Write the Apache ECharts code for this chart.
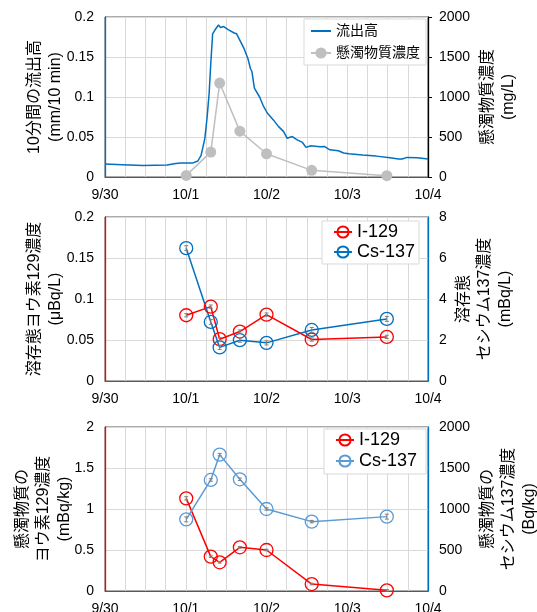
<!DOCTYPE html>
<html>
<head>
<meta charset="utf-8">
<script src="https://cdn.jsdelivr.net/npm/echarts@6/dist/echarts.min.js"></script>
<style>
    html, body { margin: 0; padding: 0; background: #fff; }
    .chart { width: 537px; height: 612px; }
</style>
</head>
<body>
<div class="chart"></div>
<script>
// x: days since 9/30 00:00
var dayLabels = ['9/30', '10/1', '10/2', '10/3', '10/4'];

// 流出高 (mm/10 min)
var flowDays = [0, 0.22, 0.47, 0.77, 0.875, 0.94, 1.09, 1.15, 1.19, 1.236,
    1.265, 1.29, 1.31, 1.333, 1.363, 1.405, 1.43, 1.47, 1.53, 1.6,
    1.63, 1.68, 1.72, 1.77, 1.80, 1.82, 1.85, 1.915, 1.96, 2.01,
    2.085, 2.15, 2.21, 2.255, 2.32, 2.38, 2.445, 2.49, 2.55, 2.66,
    2.72, 2.785, 2.89, 2.955, 3.02, 3.19, 3.36, 3.53, 3.635, 3.68,
    3.74, 3.87, 4.0];
var flowValues = [0.0162, 0.0154, 0.0145, 0.0149, 0.017, 0.0174, 0.0176, 0.020, 0.027, 0.048,
    0.075, 0.105, 0.142, 0.179, 0.184, 0.19, 0.187, 0.188, 0.184, 0.180,
    0.179, 0.169, 0.161, 0.148, 0.136, 0.1315, 0.111, 0.100, 0.089, 0.080,
    0.0714, 0.063, 0.057, 0.0485, 0.0506, 0.0465, 0.0432, 0.037, 0.039, 0.0378,
    0.038, 0.034, 0.0328, 0.030, 0.029, 0.0274, 0.0261, 0.024, 0.0224, 0.0224,
    0.0245, 0.024, 0.0224];

// sampling times
var sampleDays = [1.006, 1.31, 1.42, 1.67, 2.0, 2.56, 3.49];

// 懸濁物質濃度 (mg/L)
var ssValues = [20, 311, 1174, 573, 290, 83, 17];

// 溶存態 I-129 (μBq/L), Cs-137 (mBq/L)
var dissolvedI = [0.0802, 0.0907, 0.051, 0.0603, 0.081, 0.0506, 0.0538];
var dissolvedIErr = [0.002, 0.002, 0.002, 0.002, 0.002, 0.002, 0.002];
var dissolvedCs = [6.48, 2.88, 1.64, 1.99, 1.86, 2.49, 3.03];
var dissolvedCsErr = [0.12, 0.12, 0.1, 0.1, 0.1, 0.12, 0.12];

// 懸濁物質 I-129 (mBq/kg), Cs-137 (Bq/kg)
var particleI = [1.13, 0.419, 0.35, 0.533, 0.50, 0.085, 0.008];
var particleIErr = [0.02, 0.01, 0.01, 0.01, 0.01, 0.01, 0.01];
var particleCs = [874, 1354, 1663, 1362, 1000, 846, 907];
var particleCsErr = [30, 15, 15, 15, 15, 15, 30];

(function () {
    var myChart = echarts.init(document.querySelector(".chart"));
    var font = "'Liberation Sans', Arial, 'Noto Sans CJK JP', sans-serif";
    var gridColor = '#D9D9D9';

    function pairs(xs, ys) {
        return xs.map(function (x, i) { return [x, ys[i]]; });
    }
    function triples(xs, ys, es) {
        return xs.map(function (x, i) { return [x, ys[i], es[i]]; });
    }

    function xAxis(idx) {
        return {
            type: 'value', gridIndex: idx, min: 0, max: 4, interval: 0.25,
            axisLine: { show: true, onZero: false, lineStyle: { color: '#595959', width: 1 } },
            axisTick: { show: false },
            axisLabel: {
                margin: 11, color: '#000', fontSize: 14, fontFamily: font,
                formatter: function (v) { return v % 1 === 0 ? dayLabels[v] : ''; }
            },
            splitLine: { show: true, lineStyle: { color: gridColor, width: 1 } }
        };
    }

    function yAxis(idx, pos, max, interval, color, name, gap, ticks, grid) {
        return {
            type: 'value', gridIndex: idx, position: pos, min: 0, max: max, interval: interval,
            name: name, nameLocation: 'middle', nameRotate: 90, nameGap: gap, nameMoveOverlap: false,
            nameTextStyle: { fontSize: 16, lineHeight: 21, color: '#000', fontFamily: font, align: 'center' },
            axisLine: { show: true, lineStyle: { color: color, width: 1.3 } },
            axisTick: { show: ticks, length: 4, lineStyle: { color: color } },
            axisLabel: {
                margin: 11, color: '#000', fontSize: 14, fontFamily: font,
                formatter: function (v) { return String(v); }
            },
            splitLine: { show: grid, lineStyle: { color: gridColor, width: 1 } }
        };
    }

    function errorBars(xIdx, yIdx, data) {
        return {
            type: 'custom', xAxisIndex: xIdx, yAxisIndex: yIdx, z: 5, silent: true,
            data: data, encode: { x: 0, y: 1 },
            renderItem: function (params, api) {
                var x = api.value(0), y = api.value(1), e = api.value(2);
                var hi = api.coord([x, y + e]);
                var lo = api.coord([x, y - e]);
                var st = { stroke: '#7F7F7F', lineWidth: 1 };
                return {
                    type: 'group',
                    children: [
                        { type: 'line', shape: { x1: hi[0], y1: hi[1], x2: lo[0], y2: lo[1] }, style: st },
                        { type: 'line', shape: { x1: hi[0] - 2, y1: hi[1], x2: hi[0] + 2, y2: hi[1] }, style: st },
                        { type: 'line', shape: { x1: lo[0] - 2, y1: lo[1], x2: lo[0] + 2, y2: lo[1] }, style: st }
                    ]
                };
            }
        };
    }

    function ringSeries(name, xIdx, yIdx, color, data) {
        return {
            name: name, type: 'line', xAxisIndex: xIdx, yAxisIndex: yIdx,
            data: data, symbol: 'circle', symbolSize: 13,
            lineStyle: { color: color, width: 1.5 },
            itemStyle: { color: 'rgba(255,255,255,0)', borderColor: color, borderWidth: 1.3 },
            emphasis: { disabled: true }
        };
    }

    function legend(left, top, names, fontSize, lineH, itemW, gap, padding) {
        return {
            orient: 'vertical', left: left, top: top, data: names,
            itemWidth: itemW, itemHeight: 14, itemGap: gap, padding: padding,
            borderColor: gridColor, borderWidth: 1, borderRadius: 0, backgroundColor: '#fff',
            textStyle: { fontSize: fontSize, lineHeight: lineH, color: '#000', fontFamily: font },
            selectedMode: false
        };
    }

    function grid(top, height) {
        return {
            left: 105, right: 109, top: top, height: height,
            containLabel: false, outerBoundsMode: 'none',
            show: true, borderColor: '#595959', borderWidth: 1
        };
    }

    option = {
        animation: false,
        textStyle: { fontFamily: font },
        grid: [grid(17, 160), grid(217, 164), grid(427, 164)],
        legend: [
            legend(304, 19, [
                { name: '流出高', itemStyle: { color: 'rgba(0,0,0,0)', borderColor: 'rgba(0,0,0,0)', borderWidth: 0 } },
                '懸濁物質濃度'
            ], 14, 16, 20, 6, [4, 6, 4, 6]),
            legend(322, 221, ['I-129', 'Cs-137'], 18, 16, 18, 2, [2, 4, 3, 11]),
            legend(324, 429, ['I-129 ', 'Cs-137 '], 18, 16, 18, 3, [2, 4, 4, 11])
        ],
        xAxis: [xAxis(0), xAxis(1), xAxis(2)],
        yAxis: [
            yAxis(0, 'left', 0.2, 0.05, '#0070C0', '10分間の流出高\n(mm/10 min)', 39, false, true),
            yAxis(0, 'right', 2000, 500, '#000', '懸濁物質濃度\n(mg/L)', 49, true, false),
            yAxis(1, 'left', 0.2, 0.05, '#FF0000', '溶存態ヨウ素129濃度\n(μBq/L)', 39, false, true),
            yAxis(1, 'right', 8, 2, '#0070C0', '溶存態\nセシウム137濃度\n(mBq/L)', 25, false, false),
            yAxis(2, 'left', 2, 0.5, '#FF0000', '懸濁物質の\nヨウ素129濃度\n(mBq/kg)', 30, false, true),
            yAxis(2, 'right', 2000, 500, '#0070C0', '懸濁物質の\nセシウム137濃度\n(Bq/kg)', 49, false, false)
        ],
        series: [
            {
                name: '流出高', type: 'line', xAxisIndex: 0, yAxisIndex: 0,
                data: pairs(flowDays, flowValues), showSymbol: false, symbol: 'none',
                lineStyle: { color: '#0070C0', width: 1.5 }, itemStyle: { color: '#0070C0' }, z: 3
            },
            {
                name: '懸濁物質濃度', type: 'line', xAxisIndex: 0, yAxisIndex: 1,
                data: pairs(sampleDays, ssValues), symbol: 'circle', symbolSize: 11,
                lineStyle: { color: '#BFBFBF', width: 1.5 }, itemStyle: { color: '#BFBFBF' }, z: 2
            },
            ringSeries('I-129', 1, 2, '#FF0000', pairs(sampleDays, dissolvedI)),
            ringSeries('Cs-137', 1, 3, '#0070C0', pairs(sampleDays, dissolvedCs)),
            errorBars(1, 2, triples(sampleDays, dissolvedI, dissolvedIErr)),
            errorBars(1, 3, triples(sampleDays, dissolvedCs, dissolvedCsErr)),
            ringSeries('I-129 ', 2, 4, '#FF0000', pairs(sampleDays, particleI)),
            ringSeries('Cs-137 ', 2, 5, '#5B9BD5', pairs(sampleDays, particleCs)),
            errorBars(2, 4, triples(sampleDays, particleI, particleIErr)),
            errorBars(2, 5, triples(sampleDays, particleCs, particleCsErr))
        ]
    };

    myChart.setOption(option);
    window.addEventListener("resize", function () {
        myChart.resize();
    });
})();
</script>
</body>
</html>
